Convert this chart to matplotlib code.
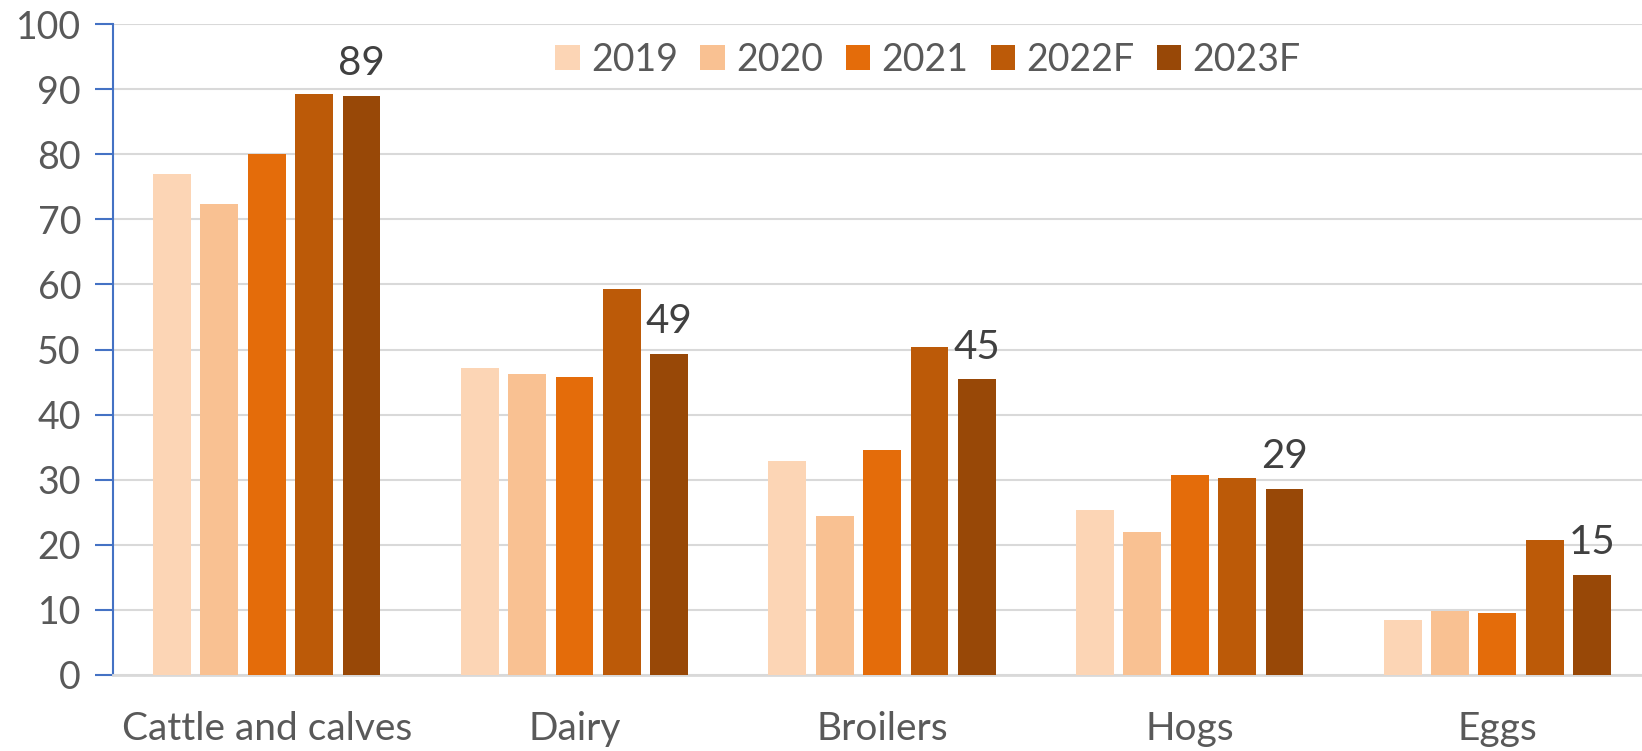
import numpy as np
import matplotlib.pyplot as plt

plt.rcParams['font.family'] = ['Lato', 'DejaVu Sans']

# data
categories = ["Cattle and calves", "Dairy", "Broilers", "Hogs", "Eggs"]
years = ["2019", "2020", "2021", "2022F", "2023F"]
v2019 = [77.0, 47.1, 32.9, 25.4, 8.5]
v2020 = [72.3, 46.3, 24.4, 22.0, 9.9]
v2021 = [80.0, 45.8, 34.6, 30.7, 9.5]
v2022 = [89.2, 59.3, 50.4, 30.2, 20.8]
v2023 = [89.0, 49.3, 45.4, 28.6, 15.4]
series = [v2019, v2020, v2021, v2022, v2023]
colors = ["#FCD5B5", "#F9C192", "#E46C0A", "#BC5A08", "#984807"]

fig = plt.figure(figsize=(16.42, 7.51), dpi=100)
ax = fig.add_axes([0.0688, 0.1012, 0.9312, 0.8668])

x = np.arange(len(categories))
pitch = 0.154
width = 0.123
for i, (vals, c, lab) in enumerate(zip(series, colors, years)):
    ax.bar(x + (i - 2) * pitch, vals, width, color=c, label=lab, zorder=3)

# labels on the last series only
for xi, v in zip(x, v2023):
    ax.annotate(f"{v:.0f}", (xi + 2 * pitch, v), xytext=(0, 10), textcoords="offset points",
                ha="center", va="bottom", fontsize=29, color="#404040")

ax.set_ylim(0, 100)
ax.set_xlim(-0.5, 4.47)
ax.set_yticks(np.arange(0, 101, 10))
ax.set_xticks(x)
ax.set_xticklabels(categories)
ax.yaxis.grid(True, color="#D9D9D9", linewidth=1.5, zorder=0)
ax.set_axisbelow(True)

for s in ["top", "right"]:
    ax.spines[s].set_visible(False)
ax.spines["left"].set_color("#4472C4")
ax.spines["left"].set_linewidth(1.5)
ax.spines["bottom"].set_color("#D9D9D9")
ax.spines["bottom"].set_linewidth(2)

ax.tick_params(axis="y", colors="#4472C4", labelcolor="#595959", labelsize=27, length=13, width=1.5, pad=10)
ax.tick_params(axis="x", length=0, labelcolor="#595959", labelsize=28, pad=26)

ax.legend(loc="center", bbox_to_anchor=(0.533, 0.945), ncol=5, frameon=False, fontsize=27,
          handlelength=0.65, handleheight=0.65, handletextpad=0.3, columnspacing=0.6, labelcolor="#595959")

fig.savefig("out.png", dpi=100)
